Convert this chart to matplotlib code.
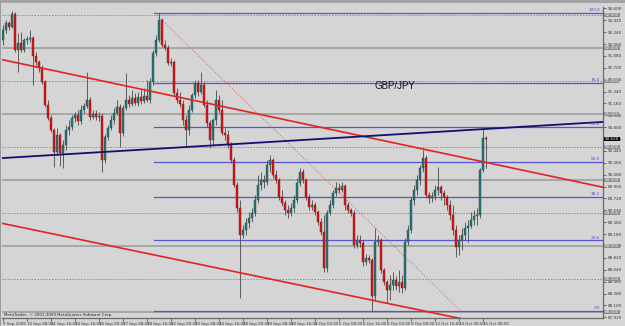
import matplotlib
matplotlib.use('Agg')
import matplotlib.pyplot as plt
import numpy as np

# ---------------- data (H4 bars) ----------------
opens = [92.12, 92.27, 92.38, 92.32, 92.52, 91.97, 92.08, 91.97, 92.12, 92.14,
         92.15, 91.88, 91.79, 91.70, 91.48, 91.14, 90.94, 90.76, 90.42, 90.68,
         90.41, 90.53, 90.76, 90.80, 90.94, 90.98, 90.89, 91.06, 91.12, 91.21,
         90.95, 91.00, 90.95, 90.97, 90.30, 90.65, 90.79, 90.91, 91.02, 91.11,
         90.71, 91.09, 91.21, 91.15, 91.24, 91.17, 91.26, 91.20, 91.27, 91.21,
         91.48, 91.92, 92.12, 92.42, 92.05, 92.00, 91.77, 91.79, 91.32, 91.21,
         91.15, 90.91, 90.76, 91.06, 91.29, 91.47, 91.33, 91.44, 91.14, 90.86,
         90.61, 90.91, 91.21, 91.06, 90.71, 90.68, 90.53, 90.30, 89.92, 89.58,
         89.17, 89.24, 89.35, 89.42, 89.50, 89.70, 89.92, 90.00, 89.97, 90.23,
         90.30, 90.08, 90.00, 89.74, 89.65, 89.55, 89.50, 89.58, 89.70, 89.95,
         90.12, 90.00, 89.74, 89.59, 89.62, 89.52, 89.36, 89.21, 88.67, 89.50,
         89.62, 89.80, 89.88, 89.85, 89.91, 89.62, 89.55, 89.50, 89.02, 89.09,
         89.05, 88.76, 88.82, 88.79, 88.24, 89.06, 89.09, 88.64, 88.45, 88.33,
         88.41, 88.48, 88.39, 88.45, 88.36, 89.06, 89.24, 89.70, 89.85, 90.00,
         90.18, 90.33, 89.77, 89.73, 89.76, 89.85, 89.89, 89.80, 89.74, 89.62,
         89.47, 89.24, 88.99, 89.09, 89.17, 89.27, 89.30, 89.39, 89.45, 89.47,
         90.15, 90.64]
highs = [92.35, 92.42, 92.41, 92.56, 92.55, 92.23, 92.24, 92.15, 92.18, 92.27,
         92.18, 91.94, 91.82, 91.74, 91.52, 91.21, 90.98, 90.79, 90.79, 90.71,
         90.61, 90.83, 90.91, 90.98, 91.03, 91.06, 91.14, 91.17, 91.64, 91.26,
         91.06, 91.06, 91.03, 91.02, 90.70, 90.83, 90.98, 91.09, 91.21, 91.15,
         91.14, 91.62, 91.29, 91.36, 91.32, 91.33, 91.36, 91.39, 91.52, 91.55,
         91.97, 92.20, 92.53, 92.45, 92.12, 92.05, 91.85, 91.82, 91.39, 91.33,
         91.21, 90.98, 91.14, 91.32, 91.52, 91.52, 91.64, 91.48, 91.21, 90.91,
         90.94, 91.36, 91.29, 91.21, 90.79, 90.76, 90.58, 90.35, 89.97, 89.70,
         89.32, 89.42, 89.52, 89.58, 89.77, 90.08, 90.12, 90.08, 90.30, 90.38,
         90.33, 90.15, 90.03, 89.85, 89.70, 89.62, 89.65, 89.77, 90.03, 90.18,
         90.17, 90.03, 89.79, 89.70, 89.67, 89.55, 89.42, 89.47, 89.55, 89.70,
         89.85, 89.97, 89.95, 89.97, 89.94, 89.67, 89.58, 89.55, 89.17, 89.17,
         89.09, 88.88, 88.86, 88.82, 89.27, 89.17, 89.12, 88.67, 88.48, 88.56,
         88.61, 88.55, 88.64, 88.56, 89.12, 89.32, 89.74, 89.92, 90.08, 90.23,
         90.45, 90.38, 89.82, 89.82, 89.92, 90.20, 89.92, 89.85, 89.77, 89.70,
         89.62, 89.32, 89.17, 89.27, 89.36, 89.39, 89.52, 89.55, 89.58, 90.18,
         90.77, 90.67]
lows = [92.05, 92.23, 92.27, 92.30, 91.94, 91.64, 91.94, 91.94, 92.06, 92.09,
        91.44, 91.74, 91.64, 91.45, 91.11, 90.91, 90.73, 90.20, 90.38, 90.21,
        90.18, 90.45, 90.68, 90.76, 90.88, 90.83, 90.85, 91.02, 91.09, 90.91,
        90.92, 90.91, 90.89, 90.12, 90.26, 90.61, 90.76, 90.85, 90.98, 90.50,
        90.67, 91.06, 91.11, 91.12, 91.14, 91.12, 91.15, 91.17, 91.18, 91.17,
        91.44, 91.88, 92.09, 92.02, 91.97, 91.74, 91.73, 91.29, 91.17, 91.11,
        90.83, 90.50, 90.68, 91.03, 91.24, 91.27, 91.30, 91.11, 90.80, 90.48,
        90.53, 90.83, 91.02, 90.68, 90.61, 90.48, 90.26, 89.89, 89.52, 88.21,
        89.12, 89.17, 89.27, 89.36, 89.45, 89.65, 89.85, 89.88, 89.92, 90.12,
        90.03, 89.95, 89.70, 89.61, 89.47, 89.42, 89.45, 89.52, 89.65, 89.91,
        89.95, 89.70, 89.55, 89.55, 89.47, 89.32, 89.17, 88.61, 88.61, 89.47,
        89.58, 89.76, 89.80, 89.82, 89.55, 89.50, 89.45, 88.97, 88.97, 88.99,
        88.70, 88.71, 88.74, 88.02, 88.18, 89.02, 88.59, 88.41, 88.14, 88.18,
        88.33, 88.33, 88.30, 88.29, 88.33, 89.02, 89.20, 89.62, 89.77, 89.92,
        90.12, 89.73, 89.65, 89.67, 89.70, 89.77, 89.70, 89.62, 89.55, 89.39,
        89.17, 88.83, 88.86, 88.94, 89.09, 89.06, 89.27, 89.32, 89.32, 89.42,
        90.12, 90.18]
closes = [92.27, 92.38, 92.32, 92.52, 91.97, 92.08, 91.97, 92.12, 92.14, 92.15,
          91.88, 91.79, 91.70, 91.48, 91.14, 90.94, 90.76, 90.42, 90.68, 90.41,
          90.53, 90.76, 90.80, 90.94, 90.98, 90.89, 91.06, 91.12, 91.21, 90.95,
          91.00, 90.95, 90.97, 90.30, 90.65, 90.79, 90.91, 91.02, 91.11, 90.71,
          91.09, 91.21, 91.15, 91.24, 91.17, 91.26, 91.20, 91.27, 91.21, 91.48,
          91.92, 92.12, 92.42, 92.05, 92.00, 91.77, 91.79, 91.32, 91.21, 91.15,
          90.91, 90.76, 91.06, 91.29, 91.47, 91.33, 91.44, 91.14, 90.86, 90.61,
          90.91, 91.21, 91.06, 90.71, 90.68, 90.53, 90.30, 89.92, 89.58, 89.17,
          89.24, 89.35, 89.42, 89.50, 89.70, 89.92, 90.00, 89.97, 90.23, 90.30,
          90.08, 90.00, 89.74, 89.65, 89.55, 89.50, 89.58, 89.70, 89.95, 90.12,
          90.00, 89.74, 89.59, 89.62, 89.52, 89.36, 89.21, 88.67, 89.50, 89.62,
          89.80, 89.88, 89.85, 89.91, 89.62, 89.55, 89.50, 89.02, 89.09, 89.05,
          88.76, 88.82, 88.79, 88.24, 89.06, 89.09, 88.64, 88.45, 88.33, 88.41,
          88.48, 88.39, 88.45, 88.36, 89.06, 89.24, 89.70, 89.85, 90.00, 90.18,
          90.33, 89.77, 89.73, 89.76, 89.85, 89.89, 89.80, 89.74, 89.62, 89.47,
          89.24, 88.99, 89.09, 89.17, 89.27, 89.30, 89.39, 89.45, 89.47, 90.15,
          90.64, 90.62]

time_labels = ["9 Sep 2009", "10 Sep 08:00", "11 Sep 16:00", "14 Sep 16:00", "16 Sep 00:00",
               "17 Sep 08:00", "18 Sep 16:00", "22 Sep 00:00", "23 Sep 08:00", "24 Sep 16:00",
               "28 Sep 00:00", "29 Sep 08:00", "30 Sep 16:00", "2 Oct 00:00", "5 Oct 08:00",
               "6 Oct 16:00", "8 Oct 00:00", "9 Oct 08:00", "12 Oct 16:00", "14 Oct 00:00",
               "15 Oct 08:00"]
label_every = 8

# drawn objects (bar index, price)
upper_red_bars = [-1, 200]
upper_red_prices = [91.83, 89.89]
lower_red_bars = [-1, 160]
lower_red_prices = [89.35, 87.83]
navy_bars = [-1, 200]
navy_prices = [90.33, 90.88]
fib_bars = [50.5, 152.5]
fib_prices = [92.53, 88.02]
fib_levels = [0.0, 23.6, 38.2, 50.0, 61.8, 76.4, 100.0]
symbol = "GBP/JPY"
copyright_text = "MetaTrader, \u00a9 2001-2009 MetaQuotes Software Corp."

# ---------------- figure ----------------
BG = '#D5D5D5'
fig = plt.figure(figsize=(6.25, 3.26), dpi=100, facecolor=BG)
ax = fig.add_axes([2/625, 8/326, 601/625, 311/326])
ax.set_facecolor(BG)
fig.patches.append(plt.Rectangle((0, 1 - 3/326), 1, 3/326, transform=fig.transFigure,
                                 facecolor='#A4A4A4', edgecolor='none', zorder=0))
fig.patches.append(plt.Rectangle((0, 0), 1.5/625, 1, transform=fig.transFigure,
                                 facecolor='#9A9A9A', edgecolor='none', zorder=0))

ymin, ymax = 87.909, 92.621
ax.set_xlim(-0.333, 200)
ax.set_ylim(ymin, ymax)

# grid-like horizontal lines
for lv in [88.0, 89.0, 90.0, 91.0, 92.0]:
    ax.axhline(lv, color='#9A9A9A', lw=1.1, zorder=1)
for lv in [88.5, 89.5, 90.5, 91.5, 92.5]:
    ax.axhline(lv, color='#8E8E8E', lw=0.7, ls=(0, (1.5, 1.5)), zorder=1)

# fibonacci
lo, hi = fib_prices[1], fib_prices[0]
for lvl in fib_levels:
    p = lo + (hi - lo) * lvl / 100.0
    ax.plot([fib_bars[0], 200], [p, p], color='#5555D5', lw=0.9, zorder=2)
    ax.text(199.0, p + 0.012, f"{lvl:.1f}", color='#4848C8', fontsize=3.0,
            ha='right', va='bottom', zorder=6)
ax.plot(fib_bars, fib_prices, color='#D06060', lw=0.6, ls=(0, (1.5, 2)), zorder=2)

# candles
x = np.arange(len(closes))
o = np.array(opens); h = np.array(highs); l = np.array(lows); c = np.array(closes)
up = c >= o
ax.vlines(x, l, h, color='#484848', lw=0.6, zorder=3)
bb = np.minimum(o, c)
bh = np.maximum(np.abs(c - o), 0.012)
ax.bar(x[up], bh[up], bottom=bb[up], width=0.75, color='#2A7272',
       edgecolor='#1C4C4C', lw=0.3, zorder=4)
ax.bar(x[~up], bh[~up], bottom=bb[~up], width=0.75, color='#D41616',
       edgecolor='#8E1010', lw=0.3, zorder=4)

# trend lines
ax.plot(upper_red_bars, upper_red_prices, color='#E42222', lw=1.2, zorder=5)
ax.plot(lower_red_bars, lower_red_prices, color='#E42222', lw=1.2, zorder=5)
ax.plot(navy_bars, navy_prices, color='#101070', lw=1.3, zorder=5)

# texts
ax.text(130.5, 91.42, symbol, fontsize=7, family='Liberation Sans',
        color='#111111', ha='center', va='center', zorder=6)
ax.text(0.3, 87.925, copyright_text, fontsize=2.9, color='#222222',
        ha='left', va='bottom', zorder=6)

# axes styling
for s in ['top', 'left']:
    ax.spines[s].set_visible(False)
for s in ['right', 'bottom']:
    ax.spines[s].set_color('#6A6A6A')
    ax.spines[s].set_linewidth(0.9)

ax.yaxis.tick_right()
yt = np.round(92.60 - 0.18 * np.arange(27), 2)
ax.set_yticks(yt)
ax.set_yticklabels([f"{v:.3f}" for v in yt])
ax.tick_params(axis='y', labelsize=3.0, length=2, width=0.5, pad=1.5,
               colors='#333333')

ax.set_xticks(x[::label_every])
ax.set_xticklabels(time_labels, ha='left')
ax.tick_params(axis='x', labelsize=2.9, length=2, width=0.5, pad=1.0,
               colors='#333333')

ytrans = ax.get_yaxis_transform()
for lv in [88.0, 88.5, 89.0, 89.5, 90.0, 90.5, 91.0, 91.5, 92.0, 92.5]:
    ax.text(1.003, lv, f"{lv:.3f}", transform=ytrans, fontsize=3.0, color='#F0F0F0',
            ha='left', va='center', clip_on=False, zorder=7,
            bbox=dict(boxstyle='square,pad=0.1', fc='#8C8C8C', ec='none'))
ax.text(1.003, closes[-1], f"{closes[-1]:.3f}", transform=ytrans, fontsize=3.0,
        color='white', ha='left', va='center', clip_on=False, zorder=8,
        bbox=dict(boxstyle='square,pad=0.1', fc='black', ec='none'))

fig.savefig('out.png', dpi=100, facecolor=BG)
